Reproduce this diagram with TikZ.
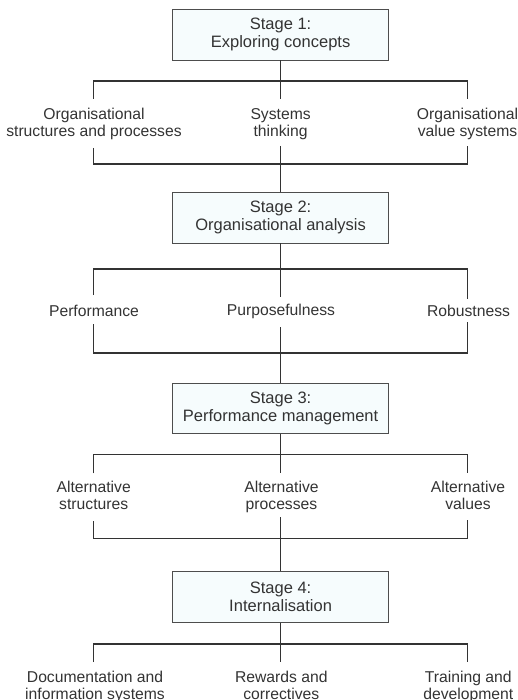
\documentclass[tikz,border=0pt]{standalone}
\usepackage{fontspec}
\setmainfont{Liberation Sans}
\definecolor{boxfill}{HTML}{F6FCFD}
\definecolor{ink}{HTML}{333333}
\definecolor{boxline}{HTML}{4D4D4D}
\newcommand{\boxfont}{\fontsize{16.5}{18.5}\selectfont}
\newcommand{\leaffont}{\fontsize{15.7}{17}\selectfont}
\tikzset{
  stagebox/.style={draw=boxline, line width=0.9pt, fill=boxfill, minimum width=215.6pt,
    minimum height=50.8pt, inner sep=0pt, align=center, font=\boxfont, text=ink},
  leaf/.style={inner sep=0pt, align=center, font=\leaffont, text=ink, anchor=north},
  conn/.style={draw=ink, line width=1.4pt}
}
\begin{document}
\begin{tikzpicture}[x=1pt,y=-1pt]
\useasboundingbox (0,0) rectangle (517,700);

% stage boxes
\node[stagebox] (s1) at (280.6,34.6) {Stage 1:\\Exploring concepts};
\node[stagebox] (s2) at (280.6,217.6) {Stage 2:\\Organisational analysis};
\node[stagebox] (s3) at (280.6,408.5) {Stage 3:\\Performance management};
\node[stagebox] (s4) at (280.6,597) {Stage 4:\\Internalisation};

% stage 1 leaves
\node[leaf] (l1a) at (94,108) {Organisational\\structures and processes};
\node[leaf] (l1b) at (280.6,108) {Systems\\thinking};
\node[leaf] (l1c) at (467.5,108) {Organisational\\value systems};
% stage 2 leaves
\node[leaf] (l2a) at (94,304.5) {Performance};
\node[leaf] (l2b) at (281,303.5) {Purposefulness};
\node[leaf] (l2c) at (468.5,304.5) {Robustness};
% stage 3 leaves
\node[leaf] (l3a) at (93.7,480.8) {Alternative\\structures};
\node[leaf] (l3b) at (281.5,480.8) {Alternative\\processes};
\node[leaf] (l3c) at (468,480.8) {Alternative\\values};
% stage 4 leaves
\node[leaf] (l4a) at (95,670.5) {Documentation and\\information systems};
\node[leaf] (l4b) at (281.3,670.5) {Rewards and\\correctives};
\node[leaf] (l4c) at (468.3,670.5) {Training and\\development};

% junction and free-end coordinates
\coordinate (j1) at (280.6,81);
\coordinate (d1a) at (93.4,99);  \coordinate (d1b) at (280.6,99);  \coordinate (d1c) at (467.4,99);
\coordinate (u1a) at (93.4,148); \coordinate (u1b) at (280.6,146); \coordinate (u1c) at (467.4,146);
\coordinate (k1) at (280.6,164);

\coordinate (j2) at (280.6,269);
\coordinate (d2a) at (93.4,295); \coordinate (d2b) at (280.6,297); \coordinate (d2c) at (467.4,299);
\coordinate (u2a) at (93.4,324); \coordinate (u2b) at (280.6,327); \coordinate (u2c) at (467.4,322);
\coordinate (k2) at (280.6,353);

\coordinate (j3) at (280.6,454.3);
\coordinate (d3a) at (93.4,473.3); \coordinate (d3b) at (280.6,473.3); \coordinate (d3c) at (467.4,473.3);
\coordinate (u3a) at (93.4,521); \coordinate (u3b) at (280.6,517); \coordinate (u3c) at (467.4,520);
\coordinate (k3) at (280.6,538.3);

\coordinate (j4) at (280.6,644);
\coordinate (d4a) at (93.4,662); \coordinate (d4b) at (280.6,662); \coordinate (d4c) at (467.4,662);

% connectors stage 1
\draw[conn] (s1.south) -- (d1b);
\draw[conn] (d1a) |- (j1) -| (d1c);
\draw[conn] (u1a) |- (k1) -| (u1c);
\draw[conn] (u1b) -- (s2.north);
% stage 2
\draw[conn] (s2.south) -- (d2b);
\draw[conn] (d2a) |- (j2) -| (d2c);
\draw[conn] (u2a) |- (k2) -| (u2c);
\draw[conn] (u2b) -- (s3.north);
% stage 3
\draw[conn] (s3.south) -- (d3b);
\draw[conn] (d3a) |- (j3) -| (d3c);
\draw[conn] (u3a) |- (k3) -| (u3c);
\draw[conn] (u3b) -- (s4.north);
% stage 4
\draw[conn] (s4.south) -- (d4b);
\draw[conn] (d4a) |- (j4) -| (d4c);
\end{tikzpicture}
\end{document}
